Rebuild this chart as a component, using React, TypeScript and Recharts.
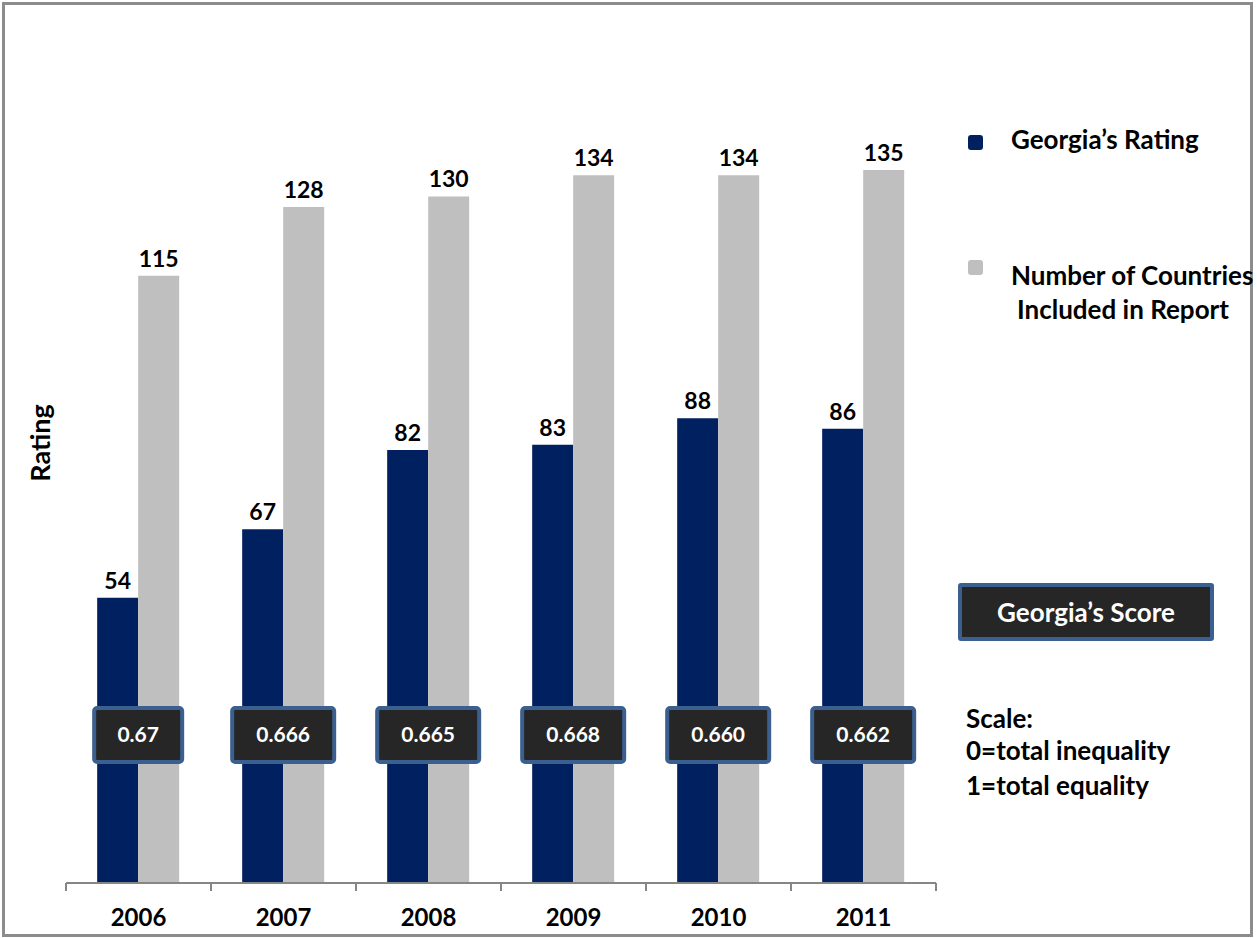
import React from "react";
import { BarChart, Bar, XAxis, YAxis, LabelList } from "recharts";

const years = ["2006", "2007", "2008", "2009", "2010", "2011"];
const georgiaRating = [54, 67, 82, 83, 88, 86];
const countriesIncluded = [115, 128, 130, 134, 134, 135];
const georgiaScore = ["0.67", "0.666", "0.665", "0.668", "0.660", "0.662"];

const data = years.map((year, i) => ({
  year,
  rating: georgiaRating[i],
  countries: countriesIncluded[i],
  score: georgiaScore[i],
}));

const FONT = "Lato, 'Open Sans', sans-serif";
const NAVY = "#002060";
const GREY = "#BFBFBF";
const BOX_FILL = "#262626";
const BOX_BORDER = "#3B5F8E";

const BAND = 145;

const YearTick = (props: any) => {
  const { x, y, payload, index } = props;
  return (
    <g>
      <line x1={x - BAND / 2} y1={y - 8} x2={x - BAND / 2} y2={y} stroke="#868686" strokeWidth={2} />
      {index === years.length - 1 && (
        <line x1={x + BAND / 2} y1={y - 8} x2={x + BAND / 2} y2={y} stroke="#868686" strokeWidth={2} />
      )}
      <text
        x={x}
        y={y + 35}
        textAnchor="middle"
        fontFamily={FONT}
        fontWeight="bold"
        fontSize={24}
        fill="#000"
      >
        {payload.value}
      </text>
    </g>
  );
};

// score badge, centred on the category
const ScoreBadge = (props: any) => {
  const { x, value } = props;
  const w = 14 * String(value).length + 32;
  const h = 54;
  const cx = x;
  const top = 708;
  return (
    <g>
      <rect
        x={cx - w / 2}
        y={top}
        width={w}
        height={h}
        rx={3}
        fill={BOX_FILL}
        stroke={BOX_BORDER}
        strokeWidth={4}
      />
      <text
        x={cx}
        y={top + h / 2 + 7}
        textAnchor="middle"
        fontFamily={FONT}
        fontWeight="bold"
        fontSize={21}
        fill="#fff"
      >
        {value}
      </text>
    </g>
  );
};

const labelStyle = {
  fontFamily: FONT,
  fontWeight: "bold" as const,
  fontSize: 23,
  fill: "#000",
};

const textStyle: React.CSSProperties = {
  position: "absolute",
  fontFamily: FONT,
  fontWeight: "bold",
  fontSize: 26,
  color: "#000",
  whiteSpace: "nowrap",
  lineHeight: "28px",
};

export default function App() {
  return (
    <div
      style={{
        position: "absolute",
        left: 0,
        top: 0,
        width: 1257,
        height: 938,
        background: "#fff",
      }}
    >
      <div
        style={{
          position: "absolute",
          left: 2,
          top: 2,
          width: 1251,
          height: 935,
          border: "3px solid #8C8C8C",
          boxSizing: "border-box",
        }}
      />
      <div style={{ position: "absolute", left: 0, top: 0 }}>
        <BarChart
          width={1257}
          height={938}
          data={data}
          margin={{ top: 38, right: 321, left: 66, bottom: 15 }}
          barCategoryGap="21.5%"
          barGap={0}
        >
          <XAxis
            dataKey="year"
            height={40}
            axisLine={{ stroke: "#868686", strokeWidth: 2 }}
            tickLine={false}
            tick={<YearTick />}
            interval={0}
          />
          <YAxis hide domain={[0, 160]} />
          <Bar dataKey="rating" fill={NAVY} isAnimationActive={false}>
            <LabelList dataKey="rating" position="top" offset={9} style={labelStyle} />
          </Bar>
          <Bar dataKey="countries" fill={GREY} isAnimationActive={false}>
            <LabelList dataKey="countries" position="top" offset={9} style={labelStyle} />
            <LabelList dataKey="score" content={<ScoreBadge />} />
          </Bar>
        </BarChart>
      </div>

      {/* y axis title */}
      <div
        style={{
          ...textStyle,
          fontSize: 27,
          left: 40,
          top: 443,
          transform: "translate(-50%, -50%) rotate(-90deg)",
        }}
      >
        Rating
      </div>

      {/* legend */}
      <div
        style={{
          position: "absolute",
          left: 968,
          top: 135,
          width: 15,
          height: 15,
          borderRadius: 3,
          background: NAVY,
        }}
      />
      <div style={{ ...textStyle, left: 1011, top: 125 }}>Georgia’s Rating</div>
      <div
        style={{
          position: "absolute",
          left: 968,
          top: 260,
          width: 15,
          height: 15,
          borderRadius: 3,
          background: GREY,
        }}
      />
      <div style={{ ...textStyle, left: 1011, top: 261 }}>Number of Countries</div>
      <div style={{ ...textStyle, left: 1017, top: 295 }}>Included in Report</div>

      {/* score explanation */}
      <div
        style={{
          position: "absolute",
          left: 958,
          top: 583,
          width: 256,
          height: 58,
          boxSizing: "border-box",
          background: BOX_FILL,
          border: `4px solid ${BOX_BORDER}`,
          borderRadius: 3,
          display: "flex",
          alignItems: "center",
          justifyContent: "center",
          fontFamily: FONT,
          fontWeight: "bold",
          fontSize: 26,
          color: "#fff",
        }}
      >
        Georgia’s Score
      </div>
      <div style={{ ...textStyle, left: 966, top: 704 }}>Scale:</div>
      <div style={{ ...textStyle, left: 966, top: 736 }}>0=total inequality</div>
      <div style={{ ...textStyle, left: 966, top: 771 }}>1=total equality</div>
    </div>
  );
}
